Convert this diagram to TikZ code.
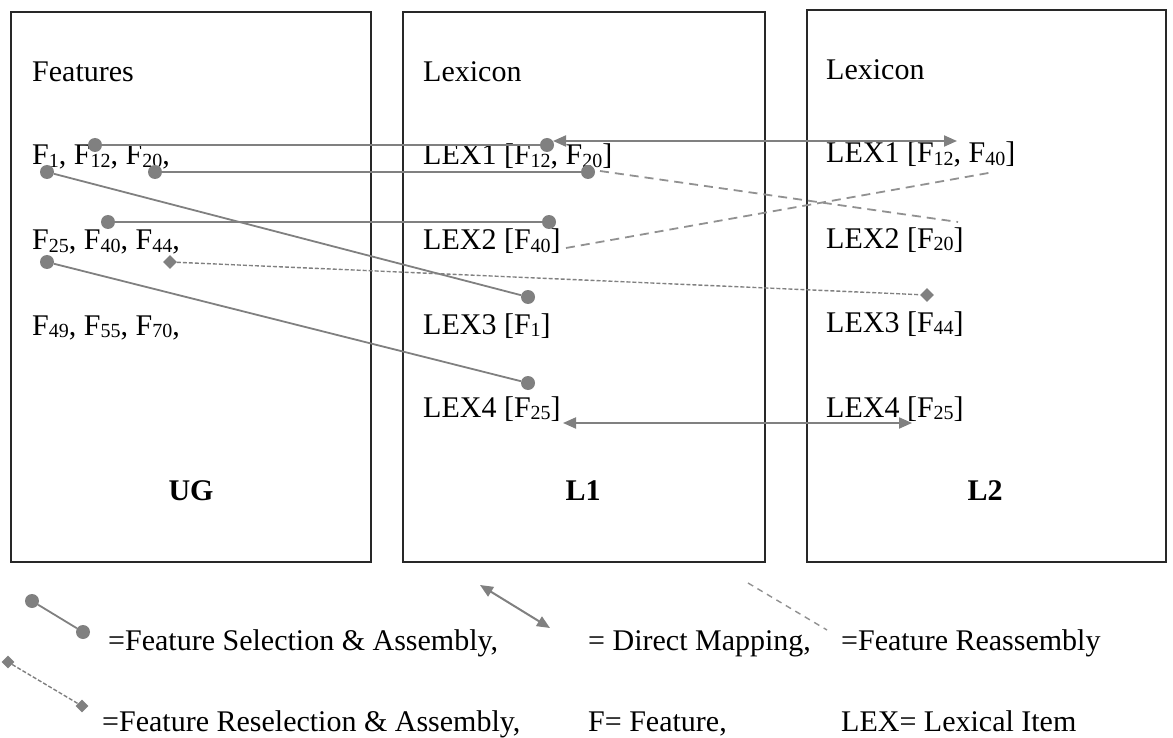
\documentclass[tikz,border=0pt]{standalone}
\usepackage{fontspec}
\setmainfont{Liberation Serif}
\usetikzlibrary{arrows.meta,shapes.geometric}
\definecolor{linkgray}{RGB}{128,128,128}
\definecolor{dashgray}{RGB}{145,145,145}
\definecolor{framegray}{RGB}{40,40,40}
% lowered, smaller digits used as feature indices
\newcommand\sbs[1]{\raisebox{-0.08em}{\fontsize{20}{22}\selectfont #1}}

\begin{document}
\begin{tikzpicture}[x=1pt,y=-1pt,
  txt/.style={anchor=base west,inner sep=0pt,font=\fontsize{30}{34}\selectfont},
  ttl/.style={anchor=base,inner sep=0pt,font=\fontsize{30}{34}\selectfont\bfseries},
  panel/.style={draw=framegray,line width=1.6pt},
  dot/.style={circle,fill=linkgray,inner sep=0pt,minimum size=14pt},
  dia/.style={diamond,fill=linkgray,inner sep=0pt,minimum size=14pt},
  sel/.style={draw=linkgray,line width=1.8pt},
  resel/.style={draw=linkgray,line width=1.4pt,dash pattern=on 4pt off 2pt},
  reas/.style={draw=dashgray,line width=1.8pt,dash pattern=on 9pt off 6pt},
  map/.style={draw=linkgray,line width=2pt,
    arrows={Triangle[length=13pt,width=11pt]-Triangle[length=13pt,width=11pt]}},
]
\useasboundingbox (0,0) rectangle (1173,738);

% the three panels
\draw[panel] (11,12) rectangle (371,562);
\draw[panel] (403,12) rectangle (765,562);
\draw[panel] (807,10) rectangle (1166,562);

% UG panel
\node[txt] (feat) at (32,82) {Features};
\node[txt] (frow1) at (32,165) {F\sbs{1}, F\sbs{12}, F\sbs{20},};
\node[txt] (frow2) at (32,250) {F\sbs{25}, F\sbs{40}, F\sbs{44},};
\node[txt] (frow3) at (32,335) {F\sbs{49}, F\sbs{55}, F\sbs{70},};
\node[ttl] (ug) at (191,500) {UG};

% L1 panel
\node[txt] (lexa) at (423,82) {Lexicon};
\node[txt] (la1) at (423,165) {LEX1 [F\sbs{12}, F\sbs{20}]};
\node[txt] (la2) at (423,250) {LEX2 [F\sbs{40}]};
\node[txt] (la3) at (423,334) {LEX3 [F\sbs{1}]};
\node[txt] (la4) at (423,417) {LEX4 [F\sbs{25}]};
\node[ttl] (l1) at (583,500) {L1};

% L2 panel
\node[txt] (lexb) at (826,80) {Lexicon};
\node[txt] (lb1) at (826,163) {LEX1 [F\sbs{12}, F\sbs{40}]};
\node[txt] (lb2) at (826,248) {LEX2 [F\sbs{20}]};
\node[txt] (lb3) at (826,332) {LEX3 [F\sbs{44}]};
\node[txt] (lb4) at (826,417) {LEX4 [F\sbs{25}]};
\node[ttl] (l2) at (985,500) {L2};

% end points of the links
\node[dot] (d1a) at (95,145) {};  \node[dot] (d1b) at (547,145) {};
\node[dot] (d2a) at (155,172) {}; \node[dot] (d2b) at (588,172) {};
\node[dot] (d3a) at (47,172) {};  \node[dot] (d3b) at (528,297) {};
\node[dot] (d4a) at (108,222) {}; \node[dot] (d4b) at (549,222) {};
\node[dot] (d5a) at (47,262) {};  \node[dot] (d5b) at (528,383) {};
\node[dia] (m1a) at (170,262) {}; \node[dia] (m1b) at (927,295) {};
\coordinate (r1a) at (600,171); \coordinate (r1b) at (958,222);
\coordinate (r2a) at (566,248); \coordinate (r2b) at (994,172);
\coordinate (a1a) at (553,141); \coordinate (a1b) at (957,141);
\coordinate (a2a) at (563,423); \coordinate (a2b) at (912,423);

% feature selection & assembly
\draw[sel] (d1a) -- (d1b);
\draw[sel] (d2a) -- (d2b);
\draw[sel] (d3a) -- (d3b);
\draw[sel] (d4a) -- (d4b);
\draw[sel] (d5a) -- (d5b);
% feature reselection & assembly
\draw[resel] (m1a) -- (m1b);
% feature reassembly
\draw[reas] (r1a) -- (r1b);
\draw[reas] (r2a) -- (r2b);
% direct mapping
\draw[map] (a1a) -- (a1b);
\draw[map] (a2a) -- (a2b);

% key
\node[dot] (kd1) at (32,601) {}; \node[dot] (kd2) at (83,632) {};
\draw[sel] (kd1) -- (kd2);
\node[dia,minimum size=13pt] (km1) at (8,662) {}; \node[dia,minimum size=13pt] (km2) at (82,706) {};
\draw[resel] (km1) -- (km2);
\coordinate (ka1) at (480,585); \coordinate (ka2) at (550,628);
\draw[map] (ka1) -- (ka2);
\coordinate (kr1) at (748,583); \coordinate (kr2) at (827,630);
\draw[reas,line width=1.4pt,dash pattern=on 6pt off 5pt] (kr1) -- (kr2);

\node[txt] (t1) at (108,650) {=Feature Selection \& Assembly,};
\node[txt] (t2) at (588,650) {= Direct Mapping,};
\node[txt] (t3) at (841,650) {=Feature Reassembly};
\node[txt] (t4) at (102,731) {=Feature Reselection \& Assembly,};
\node[txt] (t5) at (588,731) {F= Feature,};
\node[txt] (t6) at (841,731) {LEX= Lexical Item};
\end{tikzpicture}
\end{document}
